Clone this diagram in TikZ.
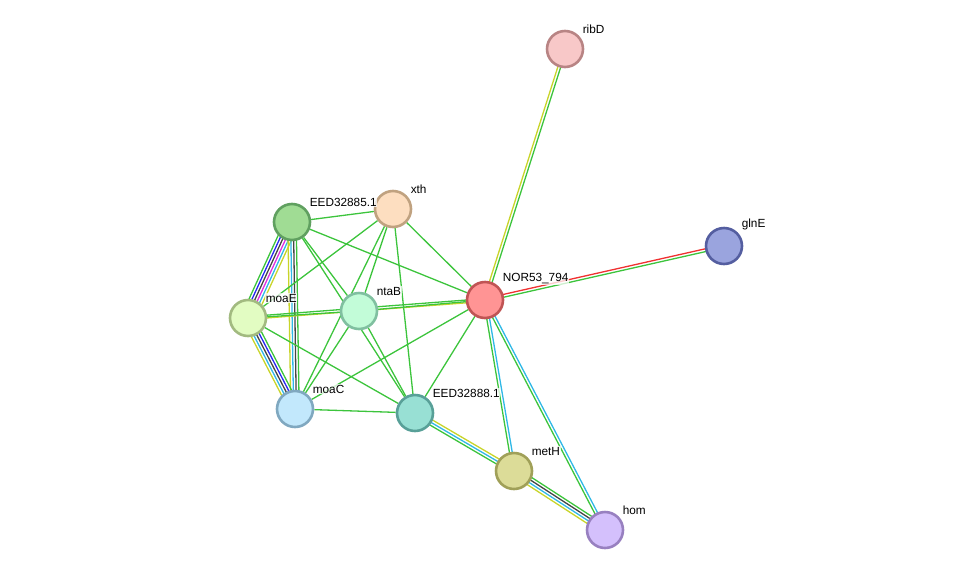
\documentclass[tikz,border=0pt]{standalone}
\usepackage{fontspec}
\setmainfont{Liberation Sans}
\usetikzlibrary{calc}
\pgfdeclarelayer{background}
\pgfsetlayers{background,main}
\definecolor{cnb}{HTML}{3CC43C}
\definecolor{ctm}{HTML}{C8D42A}
\definecolor{cdb}{HTML}{30B8E6}
\definecolor{cco}{HTML}{444444}
\definecolor{cex}{HTML}{E030E0}
\definecolor{ccs}{HTML}{2828F0}
\definecolor{cfu}{HTML}{F03030}
\tikzset{
  prot/.style={circle, minimum size=36pt, inner sep=0pt, line width=2.6pt},
  lbl/.style={font=\fontsize{11.8}{13}\selectfont, anchor=south west, inner sep=0.6pt, fill=white, fill opacity=0.75, text opacity=1},
  edge/.style={line width=1.3pt},
}
\newcommand{\mlink}[3]{%
  \foreach \cc [count=\i] in {#3}{\xdef\mlcount{\i}}%
  \foreach \cc [count=\i] in {#3}{%
    \pgfmathsetmacro\off{((\mlcount+1)/2-\i)*2.8}%
    \draw[edge,\cc] ($(#1)!\off pt!90:(#2)$) -- ($(#2)!\off pt!-90:(#1)$);
  }}
\begin{document}
\begin{tikzpicture}[x=1pt,y=-1pt]
\useasboundingbox (0,0) rectangle (976,576);
% nodes
\node[prot, fill={rgb,255:red,248;green,200;blue,200}, draw={rgb,255:red,184;green,132;blue,132}] (ribD) at (565,49) {};
\node[prot, fill={rgb,255:red,154;green,164;blue,222}, draw={rgb,255:red,84;green,94;blue,160}] (glnE) at (724,246) {};
\node[prot, fill={rgb,255:red,255;green,148;blue,148}, draw={rgb,255:red,192;green,84;blue,84}] (NOR) at (485,300) {};
\node[prot, fill={rgb,255:red,253;green,222;blue,192}, draw={rgb,255:red,192;green,162;blue,128}] (xth) at (393,209) {};
\node[prot, fill={rgb,255:red,160;green,220;blue,148}, draw={rgb,255:red,96;green,160;blue,96}] (E85) at (292,222) {};
\node[prot, fill={rgb,255:red,226;green,252;blue,194}, draw={rgb,255:red,162;green,186;blue,128}] (moaE) at (248,318) {};
\node[prot, fill={rgb,255:red,194;green,252;blue,216}, draw={rgb,255:red,128;green,192;blue,160}] (ntaB) at (359,311) {};
\node[prot, fill={rgb,255:red,194;green,232;blue,252}, draw={rgb,255:red,128;green,168;blue,192}] (moaC) at (295,409) {};
\node[prot, fill={rgb,255:red,152;green,224;blue,212}, draw={rgb,255:red,88;green,160;blue,152}] (E88) at (415,413) {};
\node[prot, fill={rgb,255:red,220;green,220;blue,152}, draw={rgb,255:red,160;green,160;blue,88}] (metH) at (514,471) {};
\node[prot, fill={rgb,255:red,212;green,192;blue,252}, draw={rgb,255:red,152;green,128;blue,192}] (hom) at (605,530) {};
% labels
\node[lbl] (lribD) at (582,34) {ribD};
\node[lbl] (lglnE) at (741,231) {glnE};
\node[lbl] (lNOR) at (502,285) {NOR53\_794};
\node[lbl] (lxth) at (410,194) {xth};
\node[lbl] (lE85) at (309,207) {EED32885.1};
\node[lbl] (lmoaE) at (265,303) {moaE};
\node[lbl] (lntaB) at (376,296) {ntaB};
\node[lbl] (lmoaC) at (312,394) {moaC};
\node[lbl] (lE88) at (432,398) {EED32888.1};
\node[lbl] (lmetH) at (531,456) {metH};
\node[lbl] (lhom) at (622,515) {hom};
% edges
\begin{pgfonlayer}{background}
\mlink{ribD}{NOR}{cnb,ctm}
\mlink{glnE}{NOR}{cnb,cfu}
\mlink{NOR}{metH}{cdb,cnb}
\mlink{NOR}{hom}{cdb,cnb}
\mlink{E88}{metH}{ctm,cdb,cnb}
\mlink{metH}{hom}{cnb,cco,cdb,ctm}
\mlink{E85}{moaE}{ctm,cdb,cex,cco,ccs,cnb}
\mlink{E85}{moaC}{cnb,cco,cdb,ctm}
\mlink{moaE}{moaC}{cnb,ccs,cco,cdb,ctm}
\mlink{moaE}{NOR}{cnb,ctm}
\foreach \a/\b in {ntaB/NOR, xth/NOR, E85/NOR, moaC/NOR, E88/NOR,
  xth/E85, xth/moaE, xth/ntaB, xth/moaC, xth/E88,
  E85/ntaB, E85/E88, moaE/ntaB, moaE/E88, ntaB/moaC, ntaB/E88, moaC/E88}
  {\draw[edge,cnb] (\a) -- (\b);}
\end{pgfonlayer}
\end{tikzpicture}
\end{document}
